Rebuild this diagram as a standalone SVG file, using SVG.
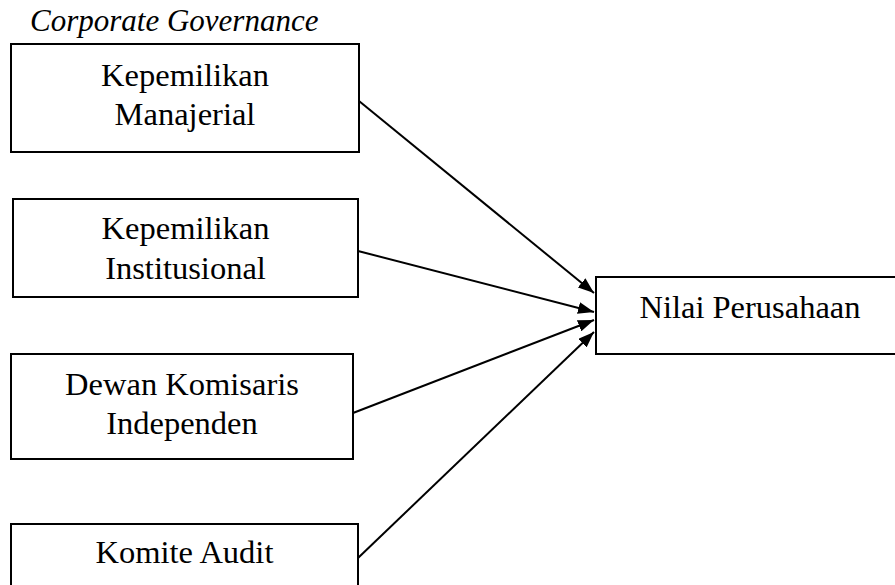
<svg xmlns="http://www.w3.org/2000/svg" width="895" height="585" viewBox="0 0 895 585">
<style>
.box{fill:#fff;stroke:#000;stroke-width:2}
.t{font-family:"Liberation Serif","Times New Roman",serif;font-size:32.5px;fill:#000;text-anchor:middle}
.ti{font-family:"Liberation Serif","Times New Roman",serif;font-size:31px;font-style:italic;fill:#000}
.c{stroke:#000;stroke-width:2;fill:none;marker-end:url(#ah)}
</style>
<defs>
<marker id="ah" markerUnits="userSpaceOnUse" markerWidth="16" markerHeight="12" viewBox="0 0 16 12" refX="16" refY="6" orient="auto">
<path d="M0,0 L16,6 L0,12 Z" fill="#000"/>
</marker>
</defs>
<rect width="895" height="585" fill="#fff"/>
<text class="ti" x="30" y="31">Corporate Governance</text>
<g id="n1">
<rect class="box" x="11" y="44" width="348" height="108"/>
<text class="t" x="185" y="86">Kepemilikan</text>
<text class="t" x="185" y="125">Manajerial</text>
</g>
<g id="n2">
<rect class="box" x="13" y="199" width="345" height="98"/>
<text class="t" x="185.5" y="239">Kepemilikan</text>
<text class="t" x="185.5" y="279">Institusional</text>
</g>
<g id="n3">
<rect class="box" x="11" y="354" width="342" height="105"/>
<text class="t" x="182" y="395">Dewan Komisaris</text>
<text class="t" x="182" y="434">Independen</text>
</g>
<g id="n4">
<rect class="box" x="11" y="524" width="347" height="80"/>
<text class="t" x="184.5" y="563">Komite Audit</text>
</g>
<g id="n5">
<rect class="box" x="596" y="277" width="310" height="77"/>
<text class="t" x="750" y="318">Nilai Perusahaan</text>
</g>
<g id="connectors">
<line class="c" x1="359" y1="101" x2="594" y2="293"/>
<line class="c" x1="358" y1="251" x2="594" y2="312"/>
<line class="c" x1="353" y1="413" x2="594" y2="320"/>
<line class="c" x1="358" y1="558" x2="594" y2="332"/>
</g>
</svg>
